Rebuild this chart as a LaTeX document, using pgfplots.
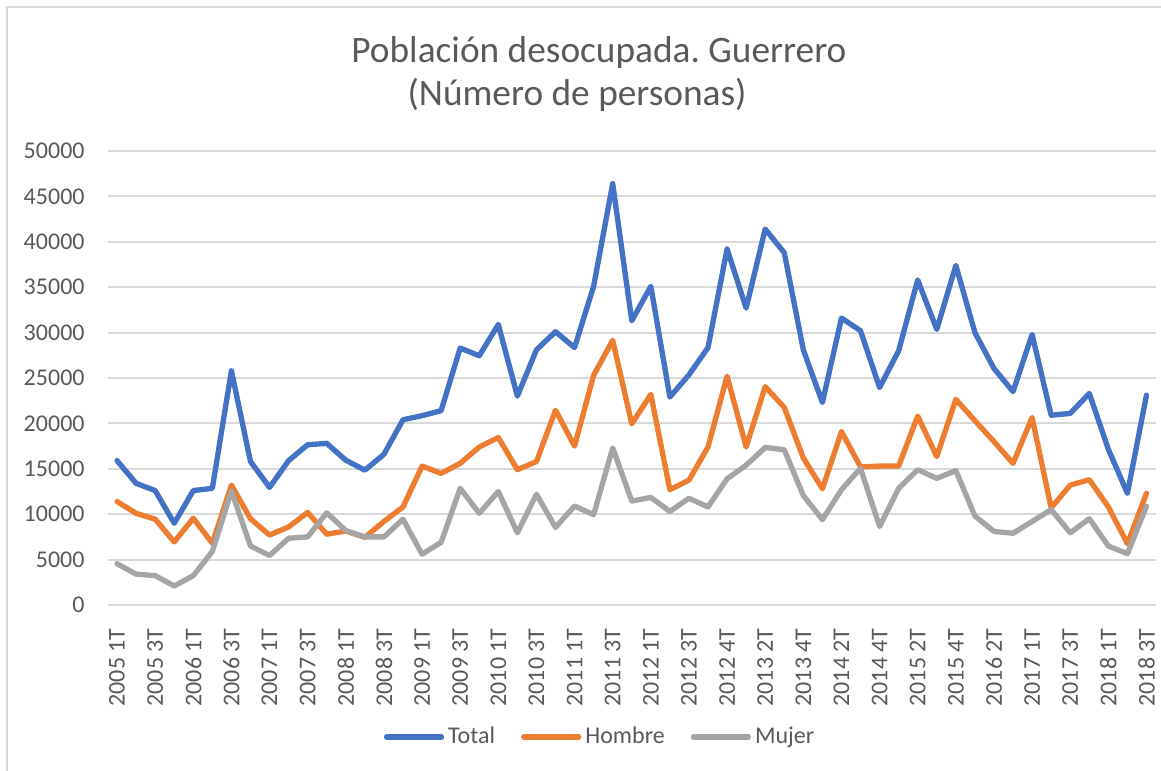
\documentclass[border=0pt]{standalone}
\usepackage{fontspec}
\setmainfont{Carlito}
\usepackage{pgfplots}
\usepackage{pgfplotstable}
\pgfplotsset{compat=1.18}

\definecolor{clrTotal}{HTML}{4472C4}
\definecolor{clrHombre}{HTML}{ED7D31}
\definecolor{clrMujer}{HTML}{A5A5A5}
\definecolor{clrGrid}{HTML}{D9D9D9}
\definecolor{clrText}{HTML}{595959}

% i = quarter index (0 = 2005 1T)
\pgfplotstableread{
i  total  hombre  mujer
0  15900  11400   4550
1  13400  10100   3400
2  12600   9450   3230
3   9000   6950   2100
4  12600   9550   3230
5  12850   6800   5900
6  25800  13200  12550
7  15800   9500   6500
8  12950   7700   5450
9  15900   8600   7350
10 17650  10200   7500
11 17800   7800  10150
12 15950   8150   8200
13 14850   7450   7500
14 16600   9200   7500
15 20400  10800   9450
16 20850  15300   5600
17 21400  14500   6900
18 28300  15600  12850
19 27450  17400  10100
20 30900  18450  12500
21 23000  14900   7950
22 28100  15800  12200
23 30100  21450   8550
24 28350  17500  10900
25 35100  25300   9950
26 46400  29150  17300
27 31300  19950  11450
28 35100  23200  11850
29 22900  12700  10300
30 25350  13750  11750
31 28350  17400  10800
32 39200  25200  13900
33 32700  17400  15400
34 41400  24050  17350
35 38800  21750  17100
36 28100  16200  12050
37 22300  12800   9400
38 31600  19100  12700
39 30200  15200  15050
40 23950  15300   8650
41 28000  15300  12850
42 35800  20800  14900
43 30350  16350  13950
44 37400  22650  14800
45 30000  20300   9800
46 26050  18000   8100
47 23500  15600   7900
48 29800  20650   9200
49 20900  10700  10500
50 21100  13200   7950
51 23300  13800   9500
52 17150  10800   6500
53 12300   6750   5650
54 23100  12300  10900
}\datatable

\begin{document}
\frenchspacing
\begin{tikzpicture}
\useasboundingbox (0,0) rectangle (435.375bp,-289.125bp);
\draw[clrGrid, line width=0.75bp] (2.625bp,-289.125bp) -- (2.625bp,-2.625bp) -- (435.375bp,-2.625bp);

\node[anchor=base, font=\fontsize{14bp}{16bp}\selectfont, text=clrText] at (224.6bp,-23.6bp) {Población desocupada. Guerrero};
\node[anchor=base, font=\fontsize{14bp}{16bp}\selectfont, text=clrText] at (216.4bp,-39.75bp) {(Número de personas)};

\begin{axis}[
    scale only axis,
    width=393.19bp,
    height=170.25bp,
    at={(40.3125bp,-226.875bp)},
    anchor=south west,
    xmin=-0.5, xmax=54.5,
    ymin=0, ymax=50000,
    axis line style={draw=none},
    tick style={draw=none},
    ymajorgrids,
    major grid style={draw=clrGrid, line width=0.75bp},
    ytick={0,5000,...,50000},
    xtick={0,2,...,54},
    xticklabels={2005 1T, 2005 3T, 2006 1T, 2006 3T, 2007 1T, 2007 3T, 2008 1T, 2008 3T,
        2009 1T, 2009 3T, 2010 1T, 2010 3T, 2011 1T, 2011 3T, 2012 1T, 2012 3T,
        2012 4T, 2013 2T, 2013 4T, 2014 2T, 2014 4T, 2015 2T, 2015 4T, 2016 2T,
        2017 1T, 2017 3T, 2018 1T, 2018 3T},
    scaled y ticks=false,
    /pgf/number format/.cd, 1000 sep={}, assume math mode=true,
    /pgfplots/.cd,
    tick label style={font=\fontsize{9bp}{11bp}\selectfont, text=clrText, inner sep=0pt},
    xticklabel style={rotate=90, anchor=east},
    yticklabel style={anchor=east},
    xticklabel shift=8.6bp,
    yticklabel shift=8.4bp,
    legend columns=-1,
    legend image code/.code={\draw[#1, line cap=round] (0bp,0bp) -- (20.6bp,0bp);},
    legend style={
        at={(0.4688,-0.2907)}, anchor=center,
        draw=none, fill=none,
        font=\fontsize{9bp}{11bp}\selectfont, text=clrText,
        /tikz/every odd column/.append style={column sep=1.5bp},
        /tikz/every even column/.append style={column sep=9.75bp},
        nodes={inner sep=0pt},
    },
    every axis plot/.append style={line width=2bp, line join=round, line cap=round},
]
\addplot[clrTotal] table[x=i, y=total] {\datatable};
\addplot[clrHombre] table[x=i, y=hombre] {\datatable};
\addplot[clrMujer] table[x=i, y=mujer] {\datatable};
\legend{Total, Hombre, Mujer}
\end{axis}
\end{tikzpicture}
\end{document}
